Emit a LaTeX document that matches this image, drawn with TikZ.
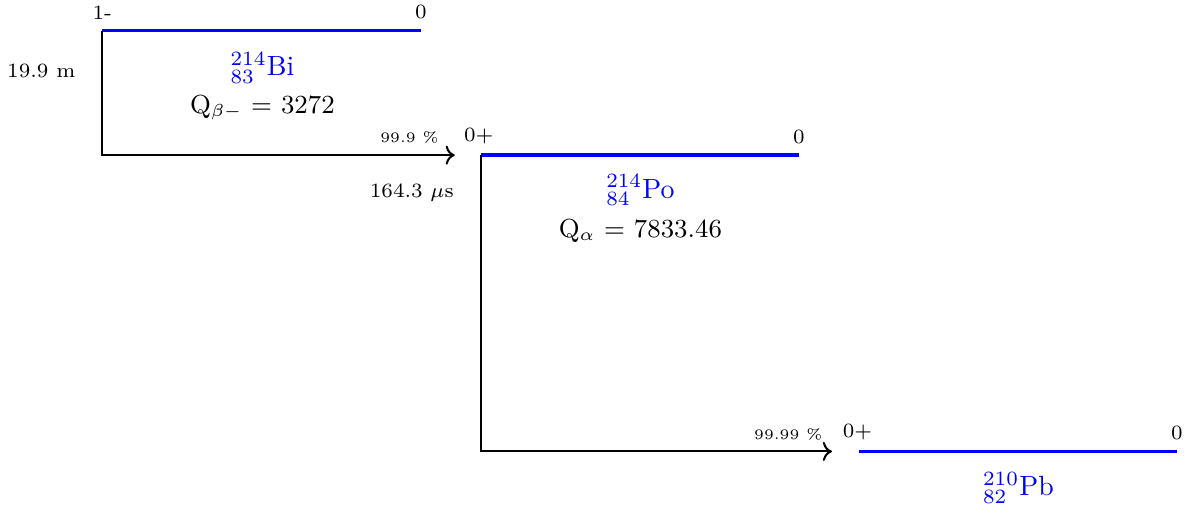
\documentclass[tikz,border=0pt]{standalone}
\usepackage{tikz}
\usetikzlibrary{arrows.meta,positioning}
\tikzset{
  % niveaux
  lvl/.style={draw=blue,line width=1.25pt},
  dk/.style={->,draw=black,line width=0.7pt},
  jp/.style={font=\scriptsize,inner sep=0pt},
  hl/.style={font=\scriptsize,inner sep=0pt},
  pct/.style={font=\tiny,inner sep=0pt},
  nuc/.style={text=blue,font=\fontsize{9.6}{11}\selectfont,inner sep=0pt},
  qv/.style={font=\small,inner sep=0pt},
}
\begin{document}
\begin{tikzpicture}
  \useasboundingbox (0,0) rectangle (14.37,6.18);
  % 214Bi
  \coordinate (bi-l) at (1.24,5.81);
  \coordinate (bi-r) at (5.10,5.81);
  \draw[lvl] (bi-l) -- (bi-r);
  \node[jp,above=1.3mm of bi-l] (bi-j) {1-};
  \node[jp,above=1.3mm of bi-r] (bi-e) {0};
  \node[hl] (bi-t) at (0.50,5.32) {19.9 m};
  \node[nuc] (bi) at (3.18,5.36) {$^{214}_{83}$Bi};
  \node[qv] (bi-q) at (3.18,4.88) {Q$_{\beta-}$ = 3272};
  % 214Po
  \coordinate (po-in) at (5.51,4.30);
  \coordinate (po-l) at (5.83,4.30);
  \coordinate (po-r) at (9.68,4.30);
  \draw[dk] (bi-l) |- (po-in);
  \node[pct] (bi-p) at (4.96,4.52) {99.9 \%};
  \draw[lvl] (po-l) -- (po-r);
  \node[jp,above=1.3mm of po-l,xshift=-0.3mm] (po-j) {0+};
  \node[jp,above=1.3mm of po-r] (po-e) {0};
  \node[hl] (po-t) at (4.99,3.85) {164.3 $\mu$s};
  \node[nuc] (po) at (7.76,3.88) {$^{214}_{84}$Po};
  \node[qv] (po-q) at (7.76,3.38) {Q$_\alpha$ = 7833.46};
  % 210Pb
  \coordinate (pb-in) at (10.08,0.71);
  \coordinate (pb-l) at (10.41,0.71);
  \coordinate (pb-r) at (14.26,0.71);
  \draw[dk] (po-l) |- (pb-in);
  \node[pct] (po-p) at (9.55,0.92) {99.99 \%};
  \draw[lvl] (pb-l) -- (pb-r);
  \node[jp,above=1.3mm of pb-l,xshift=-0.2mm] (pb-j) {0+};
  \node[jp,above=1.3mm of pb-r] (pb-e) {0};
  \node[nuc] (pb) at (12.34,0.27) {$^{210}_{82}$Pb};
\end{tikzpicture}
\end{document}
